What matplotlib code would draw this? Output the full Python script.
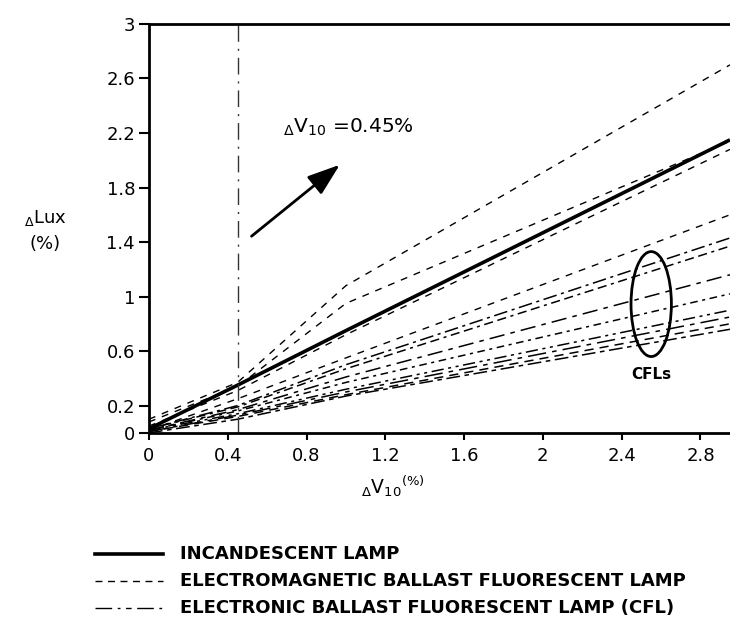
import matplotlib
matplotlib.use('Agg')
import matplotlib.pyplot as plt
from matplotlib.patches import Ellipse
from matplotlib.lines import Line2D

plt.rcParams['font.family'] = 'DejaVu Sans'
plt.rcParams['mathtext.default'] = 'regular'

# voltage change points (%) where the curves were read
dv = [0, 0.45, 1.0, 2.95]

incandescent = [0.03, 0.35, 0.75, 2.15]

# electromagnetic ballast fluorescent lamps
em_1 = [0.10, 0.37, 1.08, 2.70]
em_2 = [0.08, 0.34, 0.95, 2.14]
em_3 = [0.05, 0.31, 0.72, 2.08]
em_4 = [0.02, 0.25, 0.55, 1.60]

# electronic ballast lamps (CFL)
cfl_1 = [0.03, 0.20, 0.50, 1.43]
cfl_2 = [0.03, 0.19, 0.47, 1.37]
cfl_3 = [0.02, 0.17, 0.41, 1.16]
cfl_4 = [0.02, 0.16, 0.37, 1.02]
cfl_5 = [0.02, 0.14, 0.32, 0.90]
cfl_6 = [0.01, 0.13, 0.30, 0.85]
cfl_7 = [0.01, 0.12, 0.28, 0.80]
cfl_8 = [0.00, 0.10, 0.27, 0.76]

xticks = [0, 0.4, 0.8, 1.2, 1.6, 2, 2.4, 2.8]
yticks = [0, 0.2, 0.6, 1, 1.4, 1.8, 2.2, 2.6, 3]

fig = plt.figure(figsize=(7.3, 6.31), dpi=100)
ax = fig.add_axes([0.204, 0.314, 0.796, 0.648])

ax.plot(dv, incandescent, color='black', lw=2.6, solid_capstyle='butt')

for y in [em_1, em_2, em_3, em_4]:
    ax.plot(dv, y, color='black', lw=1.0, dashes=(5, 5))

cfl_dashes = [(9, 3, 2, 3), (6, 3, 6, 3, 2, 3), (10, 4, 3, 4), (5, 3, 2, 3),
              (8, 3, 2, 3, 2, 3), (12, 4, 3, 4), (6, 4), (9, 3, 3, 3)]
for y, d in zip([cfl_1, cfl_2, cfl_3, cfl_4, cfl_5, cfl_6, cfl_7, cfl_8], cfl_dashes):
    ax.plot(dv, y, color='black', lw=1.1, dashes=d)

# reference line at dV10 = 0.45 %
ax.axvline(0.45, color='#333333', lw=1.0, dashes=(12, 5, 1.5, 5))

ax.annotate('', xy=(0.98, 1.98), xytext=(0.51, 1.43),
            arrowprops=dict(arrowstyle='-|>,head_length=1.0,head_width=0.35',
                            mutation_scale=20, lw=2, color='black'))
ax.text(0.68, 2.24, r'$_\Delta$V$_{10}$ =0.45%', fontsize=14.5, va='center')

ax.add_patch(Ellipse((2.55, 0.945), 0.205, 0.77, fill=False, lw=2, color='black'))
ax.text(2.55, 0.43, 'CFLs', fontsize=11, fontweight='bold', ha='center', va='center')

ax.set_xlim(0, 2.95)
ax.set_ylim(0, 3)
ax.set_xticks(xticks)
ax.set_xticklabels([f'{t:g}' for t in xticks])
ax.set_yticks(yticks)
ax.set_yticklabels([f'{t:g}' for t in yticks])
ax.tick_params(axis='both', direction='out', width=1.5, labelsize=13)
ax.tick_params(axis='y', length=7, pad=3)
ax.tick_params(axis='x', length=5, pad=5)

ax.spines['right'].set_visible(False)
for s in ['left', 'bottom', 'top']:
    ax.spines[s].set_linewidth(2)

ax.set_xlabel(r'$_\Delta$V$_{10}$$^{(\%)}$', fontsize=13.5)
ax.xaxis.set_label_coords(0.42, -0.10)
fig.text(0.062, 0.655, r'$_\Delta$Lux', fontsize=13, ha='center', va='center')
fig.text(0.062, 0.613, '(%)', fontsize=13, ha='center', va='center')

# legend drawn under the plot
legend_rows = [('INCANDESCENT LAMP', dict(lw=2.6)),
               ('ELECTROMAGNETIC BALLAST FLUORESCENT LAMP', dict(lw=1.0, dashes=(5, 4))),
               ('ELECTRONIC BALLAST FLUORESCENT LAMP (CFL)', dict(lw=1.0, dashes=(12, 4, 2, 4, 4, 4)))]
for i, (label, style) in enumerate(legend_rows):
    yy = 0.122 - i * 0.0425
    fig.add_artist(Line2D([0.130, 0.223], [yy, yy], transform=fig.transFigure,
                          color='black', **style))
    fig.text(0.247, yy, label, fontsize=13, fontweight='bold', va='center')

fig.savefig('out.png', dpi=100)
